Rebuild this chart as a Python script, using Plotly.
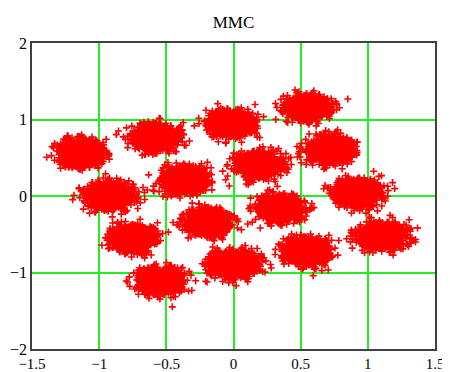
import numpy as np
import plotly.graph_objects as go

# Cluster centres (I / Q)
center_x = [-1.13, -0.58, -0.01, 0.55, -0.92, -0.37, 0.19, 0.72,
            -0.75, -0.19, 0.35, 0.93, -0.54, 0.00, 0.55, 1.11]
center_y = [0.56, 0.76, 0.95, 1.16, 0.00, 0.21, 0.41, 0.60,
            -0.55, -0.34, -0.16, 0.04, -1.11, -0.90, -0.73, -0.52]
noise_sigma = 0.08
points_per_cluster = 1000

x_ticks = [-1.5, -1, -0.5, 0, 0.5, 1, 1.5]
x_tick_text = ["\u22121.5", "\u22121", "\u22120.5", "0", "0.5", "1", "1.5"]
y_ticks = [-2, -1, 0, 1, 2]
y_tick_text = ["\u22122", "\u22121", "0", "1", "2"]

rng = np.random.default_rng(7)
xs, ys = [], []
for cx, cy in zip(center_x, center_y):
    xs.append(cx + rng.normal(0, noise_sigma, points_per_cluster))
    ys.append(cy + rng.normal(0, noise_sigma, points_per_cluster))
xs = np.concatenate(xs)
ys = np.concatenate(ys)

fig = go.Figure(go.Scatter(
    x=xs, y=ys, mode="markers",
    marker=dict(symbol="cross-thin", size=5, color="#ff0000",
                line=dict(width=1.6, color="#ff0000")),
    hoverinfo="skip"))

serif = "Liberation Serif, Times New Roman, serif"
# page body has an 8px margin, so the figure is sized/offset to compensate
fig.update_layout(
    width=442, height=364,
    margin=dict(l=24, r=15, t=35, b=23, autoexpand=False),
    paper_bgcolor="white", plot_bgcolor="white",
    showlegend=False,
    title=dict(text="MMC", x=0.5, xref="paper", xanchor="center",
               y=1 - 14 / 364, yref="container", yanchor="middle",
               font=dict(family=serif, size=17, color="#000000")),
    font=dict(family=serif, size=16, color="#000000"),
)
fig.update_xaxes(range=[-1.5, 1.5], tickvals=x_ticks, ticktext=x_tick_text,
                 automargin=False, ticklabeloverflow="allow",
                 tickfont=dict(size=15),
                 showgrid=True, gridcolor="#22ee22", gridwidth=1.5,
                 zeroline=False, showline=True, mirror=True,
                 linecolor="#404040", linewidth=1.5,
                 ticks="", ticklen=0)
fig.update_yaxes(range=[-2, 2], tickvals=y_ticks, ticktext=y_tick_text,
                 automargin=False, ticklabeloverflow="allow",
                 showgrid=True, gridcolor="#22ee22", gridwidth=1.5,
                 zeroline=False, showline=True, mirror=True,
                 linecolor="#404040", linewidth=1.5,
                 ticks="", ticklen=0)

fig.write_html("out.html")
